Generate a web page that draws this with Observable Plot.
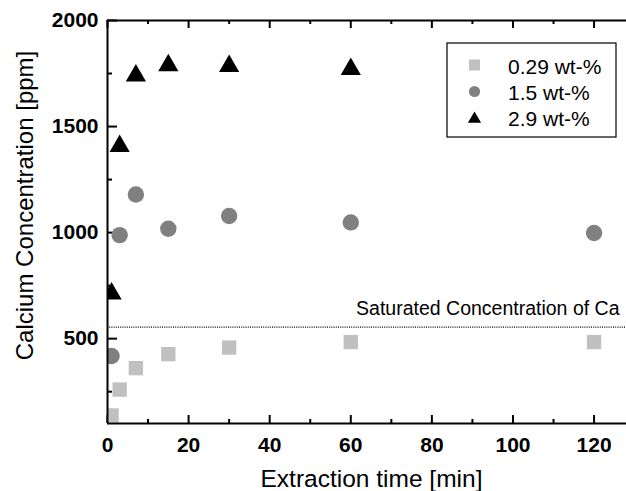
<!DOCTYPE html>
<html><head><meta charset="utf-8">
<script src="https://cdn.jsdelivr.net/npm/d3@7"></script>
<script src="https://cdn.jsdelivr.net/npm/@observablehq/plot@0.6"></script>
<style>
html,body{margin:0;padding:0;background:#fff;}
#chart{width:626px;height:491px;}
</style></head><body><div id="chart"></div>
<script>
// ---- data ----
const times = [1, 3, 7, 15, 30, 60, 120];
const seriesNames = ["0.29 wt-%", "1.5 wt-%", "2.9 wt-%"];
const low  = [138, 260, 361, 427, 458, 484, 484];
const mid  = [418, 988, 1180, 1018, 1078, 1048, 998];
const high = [712, 1408, 1740, 1788, 1785, 1770, null];
const saturation = 554;
const satLabel = "Saturated Concentration of Ca";
const xTitle = "Extraction time [min]";
const yTitle = "Calcium Concentration [ppm]";
const xMajor = [0, 20, 40, 60, 80, 100, 120];
const xMinor = [10, 30, 50, 70, 90, 110];
const yMajor = [500, 1000, 1500, 2000];
const yMinor = [250, 750, 1250, 1750];
const colors = ["#c0c0c0", "#808080", "#000000"];
const symbols = ["square", "circle", "triangle"];

const seriesValues = [low, mid, high];
const rows = [];
seriesValues.forEach((vals, si) => vals.forEach((v, i) => {
  if (v != null) rows.push({t: times[i], v, s: seriesNames[si]});
}));

const W = 626, H = 491, mL = 107, mR = 0, mT = 20, mB = 68;
const frameW = W - mL - mR, frameH = H - mT - mB;
const font = "'Liberation Sans', Arial, Helvetica, sans-serif";
const dotR = [8.1, 8.2, 7.5];
const fmt = d => String(d);
const tickOpts = {stroke: "#000", strokeWidth: 2};

const plot = Plot.plot({
  width: W, height: H,
  marginLeft: mL, marginRight: mR, marginTop: mT, marginBottom: mB,
  x: {domain: [0, 128], label: null},
  y: {domain: [100, 2000], label: null},
  style: {fontFamily: font, background: "white", color: "black", overflow: "visible"},
  marks: [
    Plot.ruleY([saturation], {stroke: "#000", strokeWidth: 1.2, strokeDasharray: "1,1.2"}),
    Plot.text([saturation], {y: d => d, text: () => satLabel, frameAnchor: "right", textAnchor: "end",
      lineAnchor: "bottom", dx: -7, dy: -12.4, fontSize: 19.5, fill: "#000"}),
    // inward ticks: bottom, top, left
    Plot.tickX(xMajor, {x: d => d, insetTop: frameH - 8, ...tickOpts}),
    Plot.tickX(xMinor, {x: d => d, insetTop: frameH - 4, ...tickOpts}),
    Plot.tickX(xMajor, {x: d => d, insetBottom: frameH - 8, ...tickOpts}),
    Plot.tickX(xMinor, {x: d => d, insetBottom: frameH - 4, ...tickOpts}),
    Plot.tickY(yMajor, {y: d => d, insetRight: frameW - 10, ...tickOpts}),
    Plot.tickY(yMinor, {y: d => d, insetRight: frameW - 5, ...tickOpts}),
    ...seriesNames.map((name, si) => Plot.dot(rows.filter(r => r.s === name), {
      x: "t", y: "v", symbol: () => symbols[si], fill: colors[si], stroke: "none", r: dotR[si], clip: true
    })),
    // axis lines
    Plot.ruleX([0], {strokeWidth: 2}),
    Plot.ruleY([100], {strokeWidth: 2}),
    Plot.ruleY([2000], {strokeWidth: 2}),
    // tick labels
    Plot.axisX(xMajor, {anchor: "bottom", tickSize: 0, tickPadding: 13.8,
      fontSize: 21, fontWeight: "bold", label: null, tickFormat: fmt}),
    Plot.axisY(yMajor, {anchor: "left", tickSize: 0, tickPadding: 9,
      fontSize: 21, fontWeight: "bold", label: null, tickFormat: fmt}),
    // titles
    Plot.text([xTitle], {text: d => d, frameAnchor: "bottom", textAnchor: "middle", lineAnchor: "bottom",
      dx: 4.5, dy: 63, fontSize: 24.5}),
    Plot.text([yTitle], {text: d => d, frameAnchor: "left", textAnchor: "middle", rotate: -90,
      lineAnchor: "bottom", dx: -75, dy: -16.5, fontSize: 24})
  ]
});

// legend inside the plot
const svg = d3.select(plot);
const lg = svg.append("g").attr("font-family", font).attr("text-anchor", "start");
lg.append("rect").attr("x", 447).attr("y", 43).attr("width", 169).attr("height", 94)
  .attr("fill", "white").attr("stroke", "#000").attr("stroke-width", 1.2);
const legendSyms = [d3.symbolSquare, d3.symbolCircle, d3.symbolTriangle];
const legendR = [6.2, 5.6, 4.9];
const legendY = [65, 91.5, 119];
seriesNames.forEach((name, i) => {
  lg.append("path")
    .attr("d", d3.symbol(legendSyms[i], Math.PI * legendR[i] * legendR[i])())
    .attr("transform", `translate(474.5,${legendY[i]})`)
    .attr("fill", colors[i]);
  lg.append("text").attr("x", 508).attr("y", 73.5 + i * 26.3)
    .attr("font-size", 21).attr("fill", "#000").attr("text-anchor", "start").text(name);
});

document.getElementById("chart").appendChild(plot);
</script>
</body></html>
